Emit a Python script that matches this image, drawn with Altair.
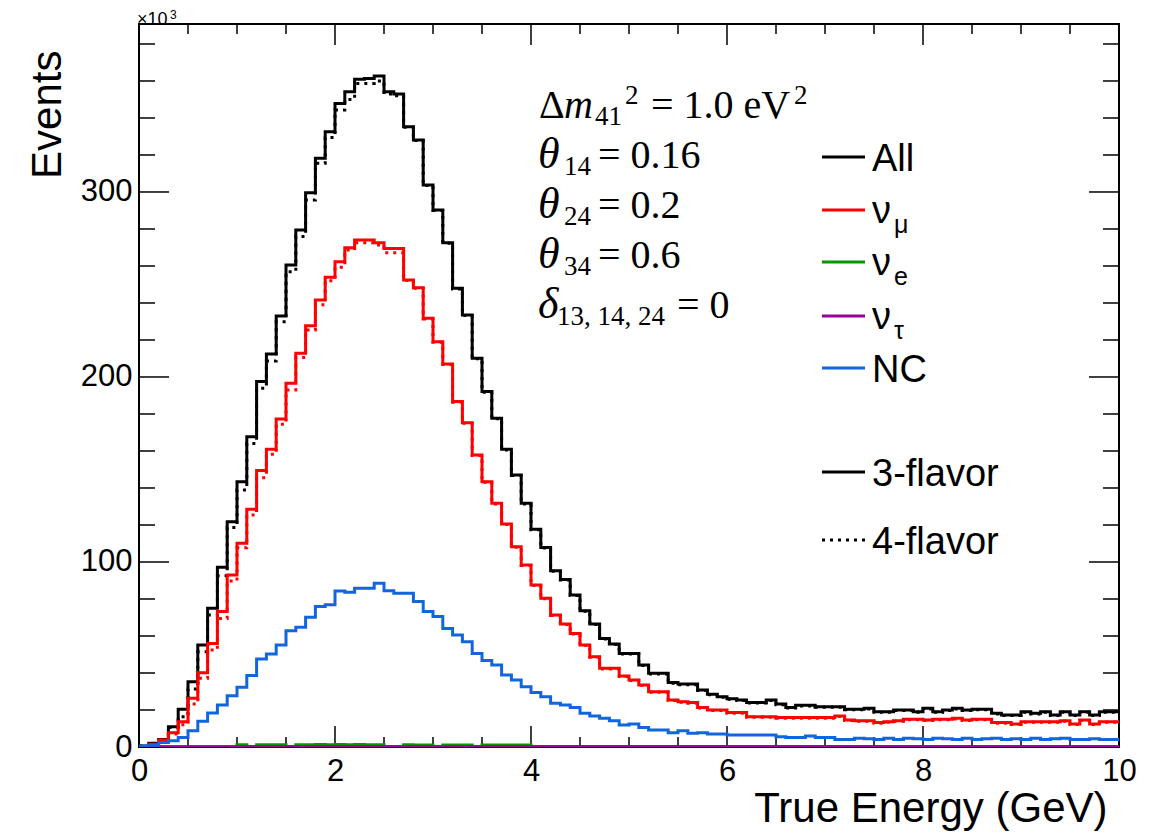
import altair as alt
import pandas as pd

# ---------------- data (x10^3 events per 0.1 GeV bin, 0-10 GeV) ----------------
bin_lo = 0.0
bin_width = 0.1

all_3f = [0.5, 2.0, 4.1, 11.0, 20.4, 35.3, 55.1, 75.0, 97.1, 121.8,
          143.4, 167.7, 197.5, 212.4, 233.0, 260.5, 279.5, 299.6, 318.2, 332.6,
          347.8, 354.2, 361.0, 361.4, 362.7, 354.2, 353.0, 335.3, 328.1, 303.8,
          290.3, 272.6, 247.9, 233.5, 210.1, 192.1, 177.7, 160.9, 147.0, 131.7,
          117.7, 107.9, 95.3, 90.6, 82.2, 73.7, 66.5, 58.7, 55.7, 50.6,
          50.6, 44.3, 39.8, 39.8, 34.8, 34.0, 34.0, 30.8, 28.5, 27.2,
          26.1, 25.4, 24.1, 24.1, 25.4, 23.2, 21.4, 22.5, 22.5, 21.8,
          21.8, 21.8, 20.4, 20.4, 20.9, 19.1, 19.1, 20.0, 20.0, 19.1,
          20.9, 19.1, 20.0, 20.9, 20.0, 20.4, 20.4, 18.2, 17.3, 17.3,
          19.1, 18.2, 19.1, 17.3, 19.1, 17.3, 19.1, 17.3, 19.1, 19.1]

all_4f = [0.5, 1.8, 3.8, 10.5, 16.4, 31.4, 51.5, 71.4, 92.6, 118.7,
          138.9, 164.1, 193.9, 208.6, 229.9, 256.9, 275.9, 295.7, 315.5, 329.4,
          344.3, 350.0, 358.7, 358.7, 360.0, 353.0, 352.0, 335.0, 327.8, 303.5,
          290.0, 272.3, 247.6, 233.2, 209.8, 191.8, 177.4, 160.6, 146.7, 131.4,
          117.4, 107.6, 95.0, 90.3, 81.9, 73.4, 66.2, 58.4, 55.4, 50.3,
          50.3, 44.0, 39.5, 39.5, 34.5, 33.7, 33.7, 30.5, 28.2, 26.9,
          25.8, 25.1, 23.8, 23.8, 25.1, 22.9, 21.1, 22.2, 22.2, 21.5,
          21.5, 21.5, 20.1, 20.1, 20.6, 18.8, 18.8, 19.7, 19.7, 18.8,
          20.6, 18.8, 19.7, 20.6, 19.7, 20.1, 20.1, 17.9, 17.0, 17.0,
          18.8, 17.9, 18.8, 17.0, 18.8, 17.0, 18.8, 17.0, 18.8, 18.8]

numu_3f = [0.3, 1.5, 3.8, 7.7, 13.7, 26.3, 40.2, 56.0, 73.2, 93.0,
           110.1, 128.5, 149.4, 160.9, 177.3, 196.6, 212.8, 227.7, 241.6, 253.9,
           262.3, 269.9, 274.0, 274.0, 272.6, 269.5, 269.5, 252.4, 248.3, 231.7,
           219.1, 207.0, 186.7, 175.3, 157.8, 143.4, 131.7, 120.5, 108.3, 98.4,
           87.6, 80.4, 71.4, 66.5, 61.4, 55.1, 48.8, 42.5, 42.5, 38.4,
           36.2, 33.5, 29.9, 29.9, 25.4, 24.5, 24.0, 21.4, 20.0, 20.0,
           18.6, 18.6, 16.4, 16.4, 16.4, 15.9, 15.9, 15.9, 15.9, 15.9,
           15.9, 16.8, 14.6, 14.2, 14.2, 13.2, 13.7, 14.2, 15.0, 15.0,
           14.6, 15.0, 15.0, 15.5, 14.6, 15.0, 15.0, 13.2, 13.2, 12.4,
           13.7, 13.7, 13.7, 13.7, 14.2, 12.4, 14.6, 12.4, 13.7, 13.7]

numu_4f = [0.3, 1.3, 3.5, 7.0, 12.0, 23.2, 37.1, 52.4, 69.5, 89.7,
           107.7, 125.4, 145.6, 158.2, 174.4, 193.0, 210.5, 225.4, 239.0, 252.0,
           259.3, 268.6, 272.6, 272.6, 271.4, 267.2, 267.2, 252.1, 248.0, 231.4,
           218.8, 206.7, 186.4, 175.0, 157.5, 143.1, 131.4, 120.2, 108.0, 98.1,
           87.3, 80.1, 71.1, 66.2, 61.1, 54.8, 48.5, 42.2, 42.2, 38.1,
           35.9, 33.2, 29.6, 29.6, 25.1, 24.2, 23.7, 21.1, 19.7, 19.7,
           18.3, 18.3, 16.1, 16.1, 16.1, 15.6, 15.6, 15.6, 15.6, 15.6,
           15.6, 16.5, 14.3, 13.9, 13.9, 12.9, 13.4, 13.9, 14.7, 14.7,
           14.3, 14.7, 14.7, 15.2, 14.3, 14.7, 14.7, 12.9, 12.9, 12.1,
           13.4, 13.4, 13.4, 13.4, 13.9, 12.1, 14.3, 12.1, 13.4, 13.4]

nue = [0.0, 0.1, 0.2, 0.2, 0.2, 0.2, 0.2, 0.2, 0.2, 0.2,
       1.2, 0.25, 1.2, 1.2, 1.2, 0.25, 1.2, 1.2, 1.3, 1.2,
       1.3, 1.2, 1.3, 1.2, 1.2, 0.25, 0.25, 1.2, 1.1, 1.1,
       0.25, 1.1, 1.1, 1.1, 0.25, 1.1, 1.1, 1.1, 1.1, 1.1,
       0.25, 0.25, 0.25, 0.25, 0.25, 0.25, 0.25, 0.25, 0.25, 0.25,
       0.25, 0.25, 0.25, 0.25, 0.25, 0.25, 0.25, 0.25, 0.25, 0.25,
       0.25, 0.25, 0.25, 0.25, 0.25, 0.25, 0.25, 0.25, 0.25, 0.25,
       0.25, 0.25, 0.25, 0.25, 0.25, 0.25, 0.25, 0.25, 0.25, 0.25,
       0.25, 0.25, 0.25, 0.25, 0.25, 0.25, 0.25, 0.25, 0.25, 0.25,
       0.25, 0.25, 0.25, 0.25, 0.25, 0.25, 0.25, 0.25, 0.25, 0.25]

nutau = [0.0, 0.0] + [0.2] * 98

nc = [0.5, 1.0, 2.5, 3.4, 5.2, 8.8, 13.9, 18.4, 22.7, 27.7,
      32.3, 38.6, 47.6, 50.3, 55.1, 62.9, 64.7, 70.1, 75.9, 76.9,
      84.3, 83.6, 85.8, 85.8, 88.5, 84.5, 83.1, 83.1, 78.6, 73.2,
      70.6, 64.1, 60.5, 56.9, 50.6, 46.7, 44.3, 38.9, 36.2, 32.6,
      29.4, 27.2, 23.6, 22.7, 21.4, 18.2, 16.8, 15.5, 14.2, 11.9,
      12.4, 10.6, 9.2, 9.2, 7.7, 8.8, 7.5, 7.7, 7.0, 7.0,
      6.5, 6.5, 6.5, 6.5, 6.5, 5.6, 5.2, 5.2, 5.9, 5.2,
      5.2, 4.1, 4.1, 4.7, 4.4, 4.1, 4.7, 4.1, 4.7, 4.4,
      4.1, 4.7, 4.4, 4.1, 4.7, 4.1, 4.4, 4.7, 4.1, 4.4,
      4.1, 4.7, 4.1, 4.4, 4.7, 4.1, 4.1, 4.4, 4.1, 4.1]

x_major = [0, 2, 4, 6, 8, 10]
x_minor = [0.5, 1, 1.5, 2.5, 3, 3.5, 4.5, 5, 5.5, 6.5, 7, 7.5, 8.5, 9, 9.5]
y_major = [0, 100, 200, 300]
y_minor = [20, 40, 60, 80, 120, 140, 160, 180, 220, 240, 260, 280, 320, 340, 360, 380]

# ---------------- layout ----------------
W, H = 980, 723
OX, OY = 139, 24          # page position of plot origin
YMAX = 390.8
SANS = "Liberation Sans"
SERIF = "Liberation Serif"

x_axis = alt.Axis(values=x_major, format="d", labelFontSize=31, labelFont=SANS,
                  labelColor="black", ticks=False, domain=False, grid=False,
                  labelPadding=9, labelFlush=False,
                  title="True Energy (GeV)", titleFont=SANS, titleFontSize=42,
                  titleFontWeight="normal", titleColor="black",
                  titleX=W - 12, titleY=74, titleAlign="right", titleBaseline="alphabetic")
y_axis = alt.Axis(values=y_major, format="d", labelFontSize=31, labelFont=SANS,
                  labelColor="black", ticks=False, domain=False, grid=False,
                  labelPadding=7, labelFlush=False,
                  title="Events", titleFont=SANS, titleFontSize=42,
                  titleFontWeight="normal", titleColor="black", titleAngle=270,
                  titleX=-79, titleY=26, titleAlign="right", titleBaseline="alphabetic")

xs = alt.Scale(domain=[0, 10], nice=False, zero=False)
ys = alt.Scale(domain=[0, YMAX], nice=False, zero=True)
X = alt.X("x:Q", scale=xs, axis=x_axis)
Y = alt.Y("y:Q", scale=ys, axis=y_axis)


def hist(vals, color, dash=None, width=3):
    n = len(vals)
    edges = [bin_lo + i * bin_width for i in range(n)] + [bin_lo + n * bin_width]
    df = pd.DataFrame({"x": edges, "y": list(vals) + [vals[-1]]})
    kw = dict(interpolate="step-after", color=color, strokeWidth=width, clip=True)
    if dash:
        kw["strokeDash"] = dash
        kw["strokeCap"] = "butt"
    return alt.Chart(df).mark_line(**kw).encode(x=X, y=Y)


one = pd.DataFrame({"a": [0]})


def txt(s, px, py, size, font=SANS, style="normal", align="left"):
    return alt.Chart(one).mark_text(text=s, fontSize=size, font=font, fontStyle=style,
                                    align=align, baseline="alphabetic", color="black"
                                    ).encode(x=alt.value(px - OX), y=alt.value(py - OY))


def legline(py, color, dash=None):
    kw = dict(color=color, strokeWidth=3)
    if dash:
        kw["strokeDash"] = dash
    return alt.Chart(one).mark_rule(**kw).encode(
        x=alt.value(822 - OX), x2=alt.value(865 - OX), y=alt.value(py - OY))


layers = []
# ticks (inside the frame, on all four sides)
xt_major = pd.DataFrame({"x": x_major})
xt_minor = pd.DataFrame({"x": x_minor})
yt_major = pd.DataFrame({"y": y_major})
yt_minor = pd.DataFrame({"y": y_minor})
for df, L in [(xt_major, 21), (xt_minor, 10)]:
    layers.append(alt.Chart(df).mark_rule(color="black", strokeWidth=1.5).encode(
        x=X, y=alt.value(H), y2=alt.value(H - L)))
    layers.append(alt.Chart(df).mark_rule(color="black", strokeWidth=1.5).encode(
        x=X, y=alt.value(0), y2=alt.value(L)))
for df, L in [(yt_major, 30), (yt_minor, 16)]:
    layers.append(alt.Chart(df).mark_rule(color="black", strokeWidth=1.5).encode(
        y=Y, x=alt.value(0), x2=alt.value(L)))
    layers.append(alt.Chart(df).mark_rule(color="black", strokeWidth=1.5).encode(
        y=Y, x=alt.value(W), x2=alt.value(W - L)))

# histograms
BLACK, RED, GREEN, PURPLE, BLUE = "#000000", "#ff0000", "#009900", "#990099", "#1166dd"
DOT = [3, 5]
layers += [
    hist(all_3f, BLACK),
    hist(all_4f, BLACK, DOT),
    hist(numu_3f, RED),
    hist(numu_4f, RED, DOT),
    hist(nue, GREEN),
    hist(nutau, PURPLE),
    hist(nc, BLUE),
]

# annotation text (oscillation parameters)
S, G, s = 40, 44, 27
layers += [
    txt("Δ", 539, 118, S, SERIF), txt("m", 564, 118, S, SERIF, "italic"),
    txt("41", 595, 125, s, SERIF), txt("2", 625, 104, s, SERIF),
    txt("= 1.0 eV", 651, 118, S, SERIF), txt("2", 794, 104, s, SERIF),
    txt("θ", 538, 168, G, SERIF, "italic"), txt("14", 564, 175, s, SERIF), txt("= 0.16", 598, 168, S, SERIF),
    txt("θ", 538, 218, G, SERIF, "italic"), txt("24", 564, 225, s, SERIF), txt("= 0.2", 598, 218, S, SERIF),
    txt("θ", 538, 268, G, SERIF, "italic"), txt("34", 564, 275, s, SERIF), txt("= 0.6", 598, 268, S, SERIF),
    txt("δ", 538, 318, G, SERIF, "italic"), txt("13, 14, 24", 557, 325, s, SERIF), txt("= 0", 677, 318, S, SERIF),
]

# legend
LS, ls = 38, 25
layers += [
    legline(157, BLACK), txt("All", 872, 171, LS),
    legline(210, RED), txt("ν", 872, 223, LS), txt("μ", 894, 233, ls),
    legline(262, GREEN), txt("ν", 872, 275, LS), txt("e", 894, 285, ls),
    legline(316, PURPLE), txt("ν", 872, 329, LS), txt("τ", 894, 339, ls),
    legline(368, BLUE), txt("NC", 872, 382, LS),
    legline(472, BLACK), txt("3-flavor", 872, 486, LS),
    legline(540, BLACK, DOT), txt("4-flavor", 872, 554, LS),
]

# exponent label
layers += [txt("×10", 137, 24.5, 18), txt("3", 170, 19, 12)]

chart = alt.layer(*layers).properties(
    width=W, height=H,
    autosize=alt.AutoSizeParams(type="none"),
    padding={"left": OX - 8, "top": OY - 8, "right": 30, "bottom": 86},
    background="white",
).configure_view(stroke="black", strokeWidth=2)

chart.save("out.html", embed_options={"renderer": "svg", "actions": False})
